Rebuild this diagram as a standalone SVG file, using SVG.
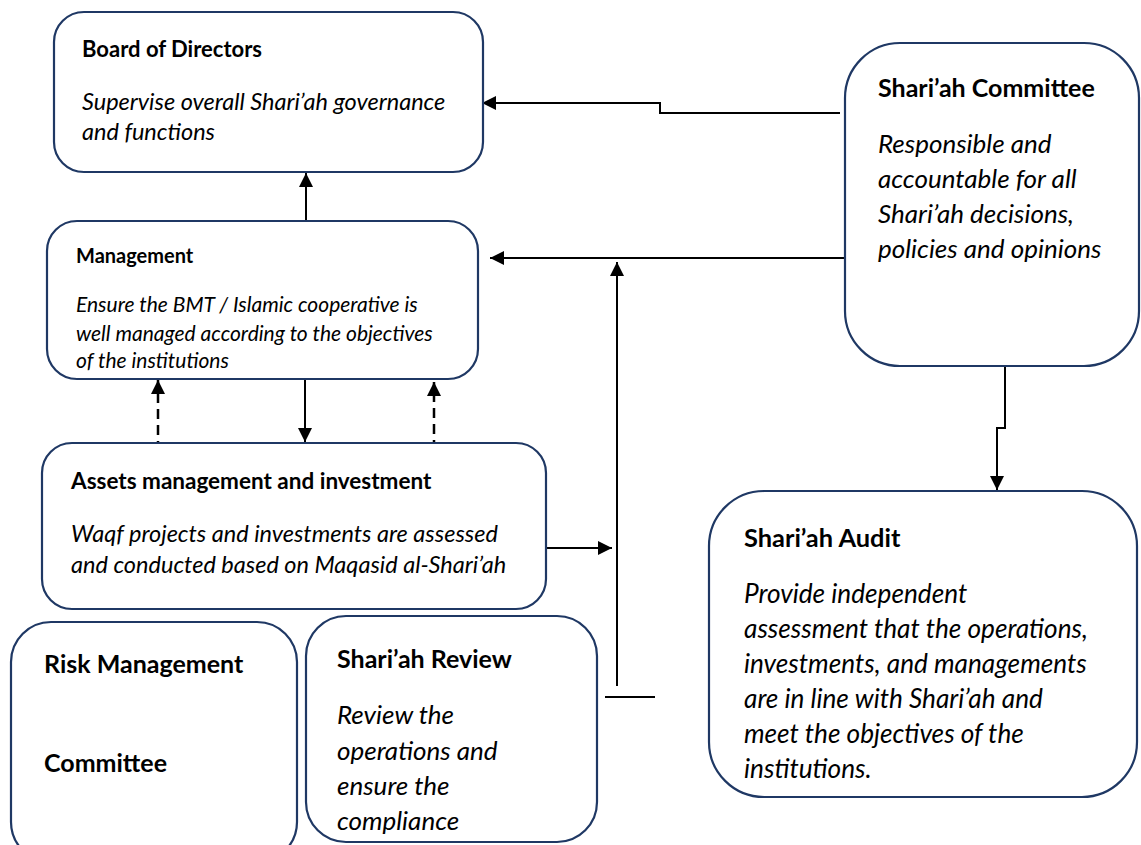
<svg xmlns="http://www.w3.org/2000/svg" width="1141" height="845" viewBox="0 0 1141 845">
<defs>
<style>
.box{fill:#fff;stroke:#1f3864;stroke-width:2.2}
.t{font-family:Lato,"Liberation Sans",sans-serif;font-weight:bold;fill:#000}
.i{font-family:Lato,"Liberation Sans",sans-serif;font-style:italic;fill:#000}
.c{fill:none;stroke:#000;stroke-width:2}
.d{fill:none;stroke:#000;stroke-width:2.5;stroke-dasharray:10,6}
</style>
<marker id="ah" viewBox="0 0 14 14" refX="14" refY="7" markerWidth="14" markerHeight="14" markerUnits="userSpaceOnUse" orient="auto">
<path d="M0,0 L14,7 L0,14 Z" fill="#000"/>
</marker>
</defs>
<rect width="1141" height="845" fill="#fff"/>
<g id="connectors">
<polyline class="c" points="840,113 660,113 660,103 482,103" marker-end="url(#ah)"/>
<line class="c" x1="306" y1="221" x2="306" y2="173" marker-end="url(#ah)"/>
<line class="c" x1="845" y1="258" x2="490" y2="258" marker-end="url(#ah)"/>
<line class="c" x1="617" y1="686" x2="617" y2="262" marker-end="url(#ah)"/>
<line class="c" x1="605" y1="697" x2="655" y2="697"/>
<line class="c" x1="305" y1="379" x2="305" y2="442" marker-end="url(#ah)"/>
<line class="d" x1="158" y1="467" x2="158" y2="380" marker-end="url(#ah)"/>
<line class="d" x1="434" y1="466" x2="434" y2="382" marker-end="url(#ah)"/>
<line class="c" x1="546" y1="548" x2="612" y2="548" marker-end="url(#ah)"/>
<polyline class="c" points="1005,366 1005,428 997,428 997,490" marker-end="url(#ah)"/>
</g>
<g id="board">
<rect class="box" x="54" y="12" width="429" height="160" rx="30"/>
<text class="t" x="82" y="57" font-size="22">Board of Directors</text>
<text class="i" x="82" y="110" font-size="23.5">Supervise overall Shari’ah governance</text>
<text class="i" x="82" y="140" font-size="23.5">and functions</text>
</g>
<g id="committee">
<rect class="box" x="845" y="43" width="294" height="323" rx="55"/>
<text class="t" x="878" y="97" font-size="25">Shari’ah Committee</text>
<text class="i" x="878" y="153" font-size="26">Responsible and</text>
<text class="i" x="878" y="188" font-size="26">accountable for all</text>
<text class="i" x="878" y="223" font-size="26">Shari’ah decisions,</text>
<text class="i" x="878" y="258" font-size="26">policies and opinions</text>
</g>
<g id="management">
<rect class="box" x="47" y="221" width="431" height="158" rx="30"/>
<text class="t" x="76" y="263" font-size="20">Management</text>
<text class="i" x="76" y="312" font-size="21">Ensure the BMT / Islamic cooperative is</text>
<text class="i" x="76" y="341" font-size="21">well managed according to the objectives</text>
<text class="i" x="76" y="368" font-size="21">of the institutions</text>
</g>
<g id="assets">
<rect class="box" x="42" y="443" width="504" height="166" rx="30"/>
<text class="t" x="71" y="489" font-size="22.5">Assets management and investment</text>
<text class="i" x="71" y="542" font-size="23.5">Waqf projects and investments are assessed</text>
<text class="i" x="71" y="573" font-size="23.5">and conducted based on Maqasid al-Shari’ah</text>
</g>
<g id="risk">
<rect class="box" x="11" y="622" width="286" height="240" rx="40"/>
<text class="t" x="44" y="673" font-size="25">Risk Management</text>
<text class="t" x="44" y="772" font-size="25">Committee</text>
</g>
<g id="review">
<rect class="box" x="306" y="616" width="291" height="226" rx="40"/>
<text class="t" x="337" y="668" font-size="25">Shari’ah Review</text>
<text class="i" x="337" y="724" font-size="26">Review the</text>
<text class="i" x="337" y="760" font-size="26">operations and</text>
<text class="i" x="337" y="795" font-size="26">ensure the</text>
<text class="i" x="337" y="830" font-size="26">compliance</text>
</g>
<g id="audit">
<rect class="box" x="709" y="491" width="428" height="306" rx="55"/>
<text class="t" x="744" y="547" font-size="25.4">Shari’ah Audit</text>
<text class="i" x="744" y="603" font-size="26.2">Provide independent</text>
<text class="i" x="744" y="638" font-size="26.2">assessment that the operations,</text>
<text class="i" x="744" y="673" font-size="26.2">investments, and managements</text>
<text class="i" x="744" y="708" font-size="26.2">are in line with Shari’ah and</text>
<text class="i" x="744" y="743" font-size="26.2">meet the objectives of the</text>
<text class="i" x="744" y="778" font-size="26.2">institutions.</text>
</g>
</svg>
